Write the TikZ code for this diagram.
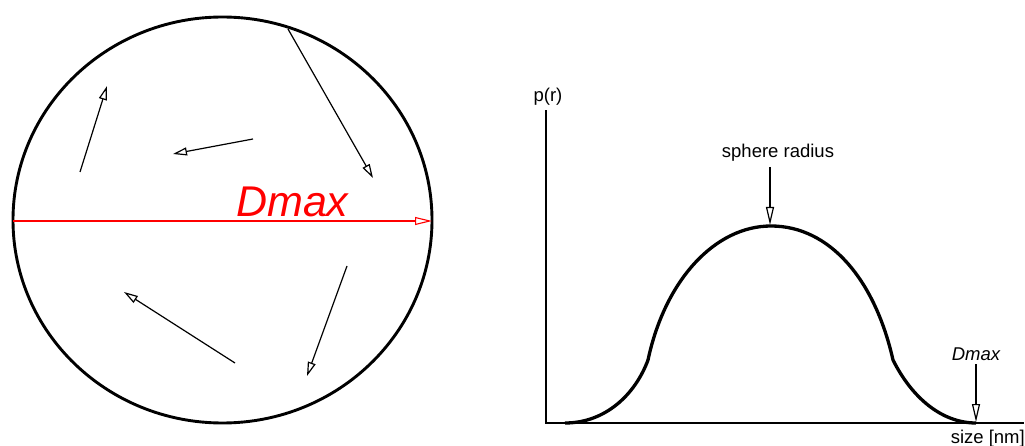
\documentclass[tikz,border=0pt]{standalone}
\usepackage{fontspec}
\setmainfont{Liberation Sans}
\usetikzlibrary{arrows.meta}
\tikzset{
  vec/.style={line width=1.2pt, -{Triangle[open, length=14pt, width=8pt]}},
  redvec/.style={red, line width=1.1pt, -{Triangle[open, length=17pt, width=8pt]}},
  markvec/.style={line width=1.2pt, -{Triangle[open, length=18pt, width=8pt]}},
  lbl/.style={inner sep=0pt, font=\fontsize{18.5}{20}\selectfont},
  ax/.style={line width=2.7pt},
}
\begin{document}
\begin{tikzpicture}[x=1pt,y=-1pt]
\useasboundingbox (0,0) rectangle (1025,446);
% sphere
\draw[line width=2.9pt] (222.5,220) ellipse [x radius=209.5, y radius=203];
% motion vectors
\coordinate (a1) at (288,29);  \coordinate (b1) at (373,178);
\coordinate (a2) at (80,172);  \coordinate (b2) at (107,86);
\coordinate (a3) at (253,139); \coordinate (b3) at (173,154);
\coordinate (a4) at (235,363); \coordinate (b4) at (124,292);
\coordinate (a5) at (347,266); \coordinate (b5) at (307,376);
\draw[vec] (a1) -- (b1);
\draw[vec] (a2) -- (b2);
\draw[vec] (a3) -- (b3);
\draw[vec] (a4) -- (b4);
\draw[vec] (a5) -- (b5);
% Dmax diameter
\coordinate (dl) at (13,221); \coordinate (dr) at (432,221);
\draw[redvec] (dl) -- (dr);
\node[red, anchor=base west, inner sep=0pt, font=\fontsize{43}{45}\selectfont\itshape] (dbig) at (236,217) {Dmax};
% axes
\coordinate (o) at (546,423);
\coordinate (ytop) at (546,111);
\coordinate (xend) at (1023,423);
\draw[ax, line cap=rect] (ytop) -- (o) -- (xend);
\node[lbl, anchor=base] (pr) at (548,102) {p(r)};
\node[lbl, anchor=base east] (sz) at (1025,443) {size [nm]};
% distribution curve
\draw[line width=3.3pt, line join=round]
  (565,423) .. controls (605,423) and (635,395) .. (648,360)
  .. controls (665,280) and (715,226) .. (771,226)
  .. controls (830,226) and (875,280) .. (893,360)
  .. controls (912,398) and (942,423) .. (976,423);
% markers
\node[lbl, anchor=base] (sr) at (778,158) {sphere radius};
\coordinate (srt) at (770,225);
\draw[markvec] (770,167) coordinate (srs) -- (srt);
\node[lbl, anchor=base, font=\fontsize{18.5}{20}\selectfont\itshape] (ds) at (976,360) {Dmax};
\coordinate (dst) at (976,422);
\draw[markvec] (976,364) coordinate (dss) -- (dst);
\end{tikzpicture}
\end{document}
